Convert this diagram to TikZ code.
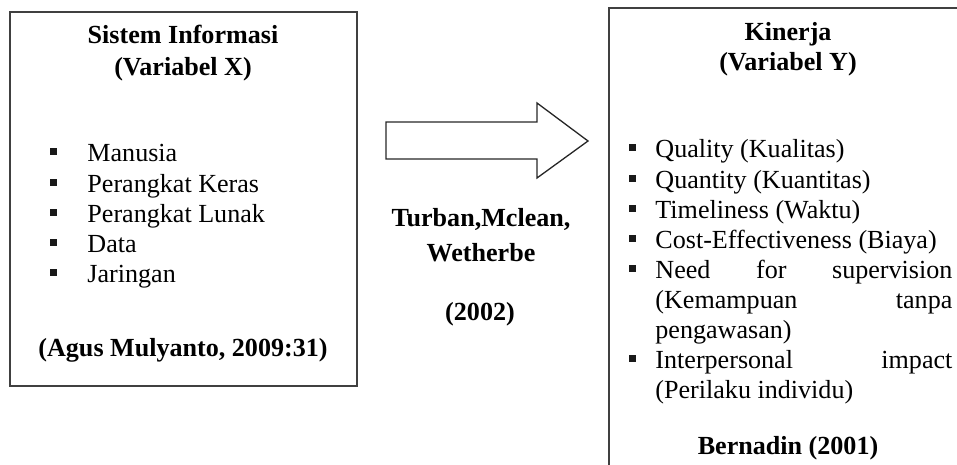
\documentclass[tikz,border=0pt]{standalone}
\usepackage{fontspec}
\setmainfont{Liberation Serif}
\usetikzlibrary{positioning}

\newcommand{\jline}[1]{\makebox[136.6pt][s]{#1}}

\tikzset{
  txt/.style={inner sep=0pt, font=\fontsize{12pt}{13.85pt}\selectfont},
  head/.style={inner sep=0pt, font=\fontsize{12pt}{13.85pt}\selectfont\bfseries, anchor=base},
  item/.style={txt, anchor=base west},
  bul/.style={fill=black!90},
  box/.style={draw=black!75, line width=0.9pt},
}

\begin{document}
\begin{tikzpicture}[x=0.46pt, y=-0.46pt, line join=miter]
        \clip (0,0) rectangle (957,465);
        \pgfmathsetmacro{\dy}{30.1}
        % left box: sistem informasi
        \begin{scope}
            \draw[box] (10,12) rectangle (357,386);
            \node[head] (xtitle) at (183,44) {Sistem Informasi};
            \node[head] (xvar)   at (183,76) {(Variabel X)};
            \foreach \t [count=\i from 0] in {Manusia, Perangkat Keras, Perangkat Lunak, Data, Jaringan} {
                \fill[bul] (49.5,{148.5+\i*\dy}) rectangle ++(7,7);
                \node[item] (x\i) at (87,{162+\i*\dy}) {\t};
            }
            \node[head] (xsrc) at (183,357) {(Agus Mulyanto, 2009:31)};
        \end{scope}
        % block arrow
        \draw[black!85, line width=0.6pt]
            (386,122) -- (537,122) -- (537,103) -- (588,141)
            -- (537,178) -- (537,159) -- (386,159) -- cycle;
        \node[head] (ref1) at (481,227) {Turban,Mclean,};
        \node[head] (ref2) at (481,262) {Wetherbe};
        \node[head] (ref3) at (480,321) {(2002)};
        % right box: kinerja
        \begin{scope}
            \draw[box] (609,8) rectangle (975,490);
            \node[head] (ytitle) at (788,41) {Kinerja};
            \node[head] (yvar)   at (788,71) {(Variabel Y)};
            \foreach \k in {0,1,2,3,4,7}
                \fill[bul] (629,{144.5+\k*\dy}) rectangle ++(7,7);
            \node[item] (y1)  at (655,158)          {Quality (Kualitas)};
            \node[item] (y2)  at (655,{158+\dy})    {Quantity (Kuantitas)};
            \node[item] (y3)  at (655,{158+2*\dy})  {Timeliness (Waktu)};
            \node[item] (y4)  at (655,{158+3*\dy})  {Cost-Effectiveness (Biaya)};
            \node[item] (y5a) at (655,{158+4*\dy})  {\jline{Need for supervision}};
            \node[item] (y5b) at (655,{158+5*\dy})  {\jline{(Kemampuan tanpa}};
            \node[item] (y5c) at (655,{158+6*\dy})  {pengawasan)};
            \node[item] (y6a) at (655,{158+7*\dy})  {\jline{Interpersonal impact}};
            \node[item] (y6b) at (655,{158+8*\dy})  {(Perilaku individu)};
            \node[head] (ysrc) at (788,455) {Bernadin (2001)};
        \end{scope}
    \end{tikzpicture}
\end{document}
